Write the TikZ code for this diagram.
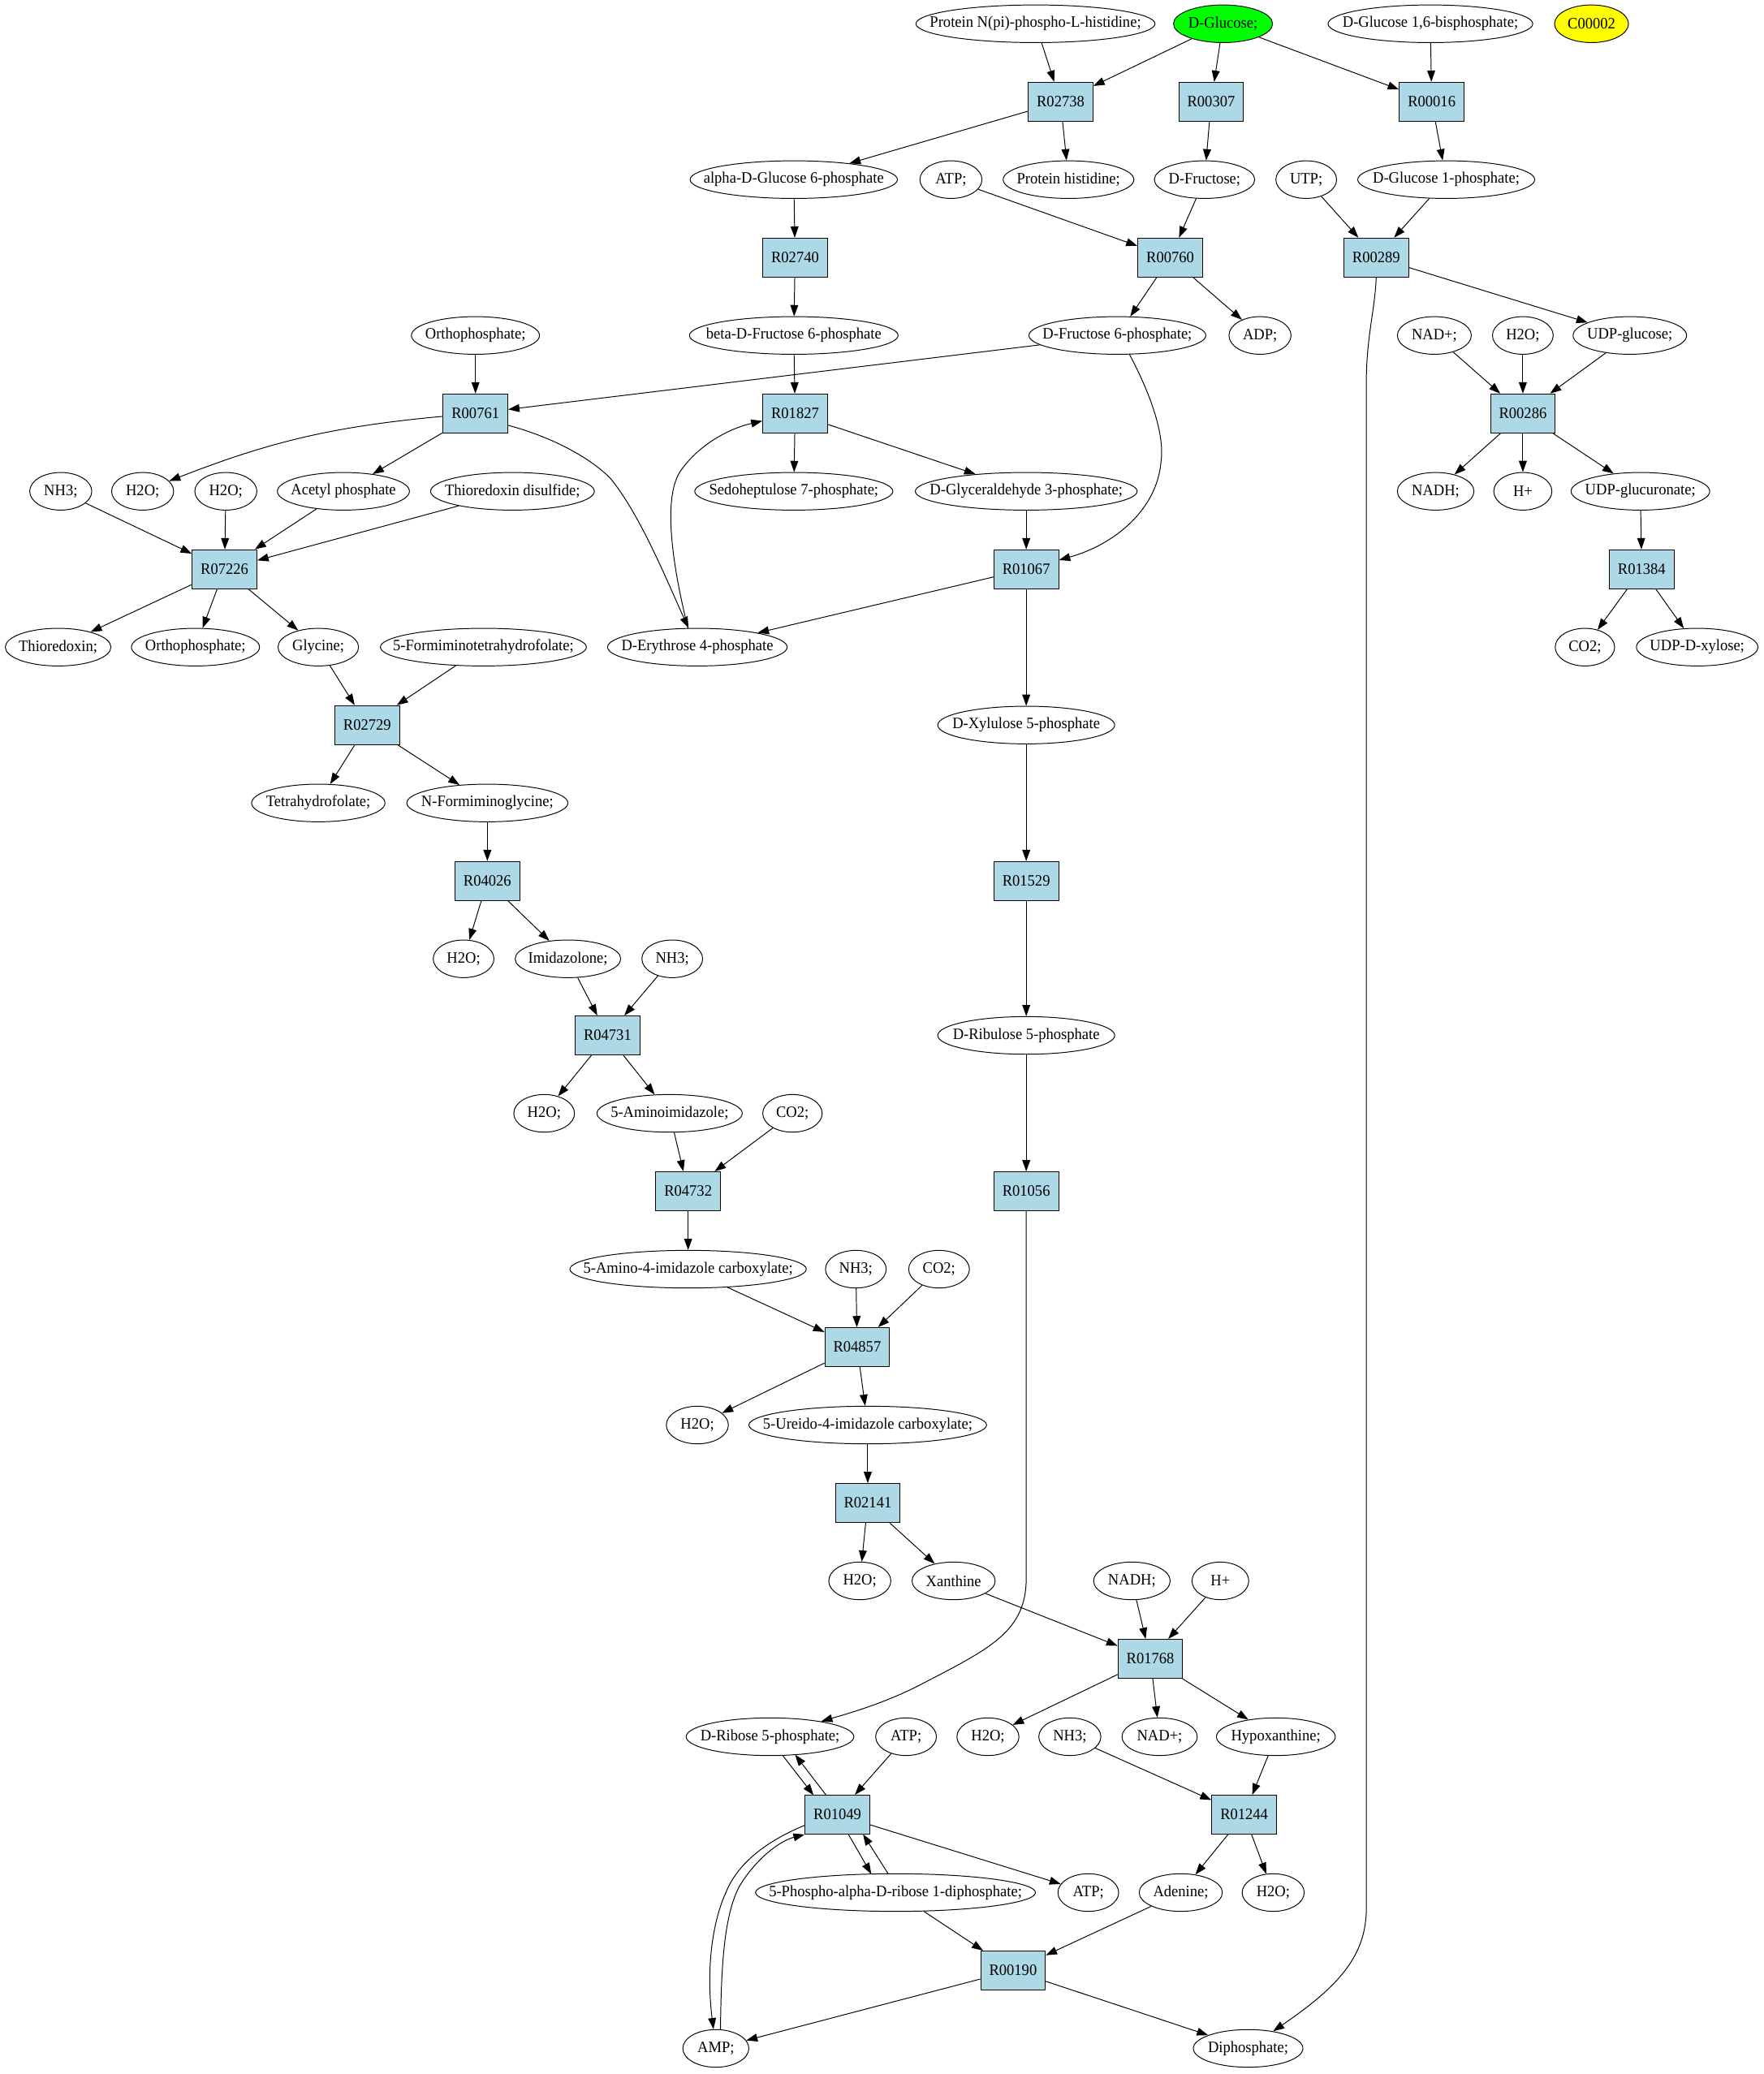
\documentclass[tikz,border=0pt]{standalone}
\usepackage{fontspec}
\setmainfont[FakeStretch=0.95]{Liberation Serif}
\usetikzlibrary{arrows.meta,shapes.geometric}
\definecolor{rxnblue}{HTML}{ADD8E6}
\definecolor{glcgreen}{HTML}{00FF00}
\definecolor{cpdyellow}{HTML}{FFFF00}
\newcommand{\cz}[1]{\makebox[0pt]{#1}}
\begin{document}
\begin{tikzpicture}[x=1pt,y=-1pt,
  font=\fontsize{12}{14}\selectfont,
  met/.style={draw, ellipse, line width=0.6pt, inner sep=0pt, minimum height=28.5pt, minimum width=#1pt},
  rxn/.style={draw, rectangle, line width=0.6pt, fill=rxnblue, inner sep=0pt, minimum width=49pt, minimum height=29.5pt},
  arr/.style={-{Triangle[length=8.5pt,width=6pt]}, line width=0.6pt}]
\useasboundingbox (0,0) rectangle (1335,1570.4);
\fill[white] (0,0) rectangle (1335,1570.4);

% row 0
\node[met=181] (prot) at (784,18) {\cz{Protein N(pi)-phospho-L-histidine;}};
\node[met=75, fill=glcgreen] (glc) at (926,18) {\cz{D-Glucose;}};
\node[met=155] (g16bp) at (1083,18) {\cz{D-Glucose 1,6-bisphosphate;}};
\node[met=56, fill=cpdyellow] (c2) at (1205,18) {\cz{C00002}};
% row 1
\node[rxn] (r02738) at (803,77) {R02738};
\node[rxn] (r00307) at (917,77) {R00307};
\node[rxn] (r00016) at (1084,77) {R00016};
% row 2
\node[met=157] (a6p) at (601,136) {\cz{alpha-D-Glucose 6-phosphate}};
\node[met=47] (atpA) at (720,136) {\cz{ATP;}};
\node[met=99] (phis) at (809,136) {\cz{Protein histidine;}};
\node[met=76] (fru) at (912,136) {\cz{D-Fructose;}};
\node[met=46] (utp) at (989,136) {\cz{UTP;}};
\node[met=134] (g1p) at (1095,136) {\cz{D-Glucose 1-phosphate;}};
% row 3
\node[rxn] (r02740) at (602,195) {R02740};
\node[rxn] (r00760) at (886,195) {R00760};
\node[rxn] (r00289) at (1042,195) {R00289};
% row 4
\node[met=97] (piA) at (360,254) {\cz{Orthophosphate;}};
\node[met=158] (bf6p) at (601,254) {\cz{beta-D-Fructose 6-phosphate}};
\node[met=134] (f6p) at (846,254) {\cz{D-Fructose 6-phosphate;}};
\node[met=47] (adp) at (954,254) {\cz{ADP;}};
\node[met=56] (nadA) at (1086,254) {\cz{NAD+;}};
\node[met=46] (h2oA) at (1153,254) {\cz{H2O;}};
\node[met=86] (udpg) at (1234,254) {\cz{UDP-glucose;}};
% row 5
\node[rxn] (r00761) at (360,313) {R00761};
\node[rxn] (r01827) at (602,313) {R01827};
\node[rxn] (r00286) at (1153,313) {R00286};
% row 6
\node[met=47] (nh3A) at (46,372) {\cz{NH3;}};
\node[met=47] (h2oB) at (108,372) {\cz{H2O;}};
\node[met=47] (h2oC) at (171,372) {\cz{H2O;}};
\node[met=100] (acp) at (260,372) {\cz{Acetyl phosphate}};
\node[met=124] (trxss) at (388,372) {\cz{Thioredoxin disulfide;}};
\node[met=150] (s7p) at (601,372) {\cz{Sedoheptulose 7-phosphate;}};
\node[met=168] (gap) at (777,372) {\cz{D-Glyceraldehyde 3-phosphate;}};
\node[met=58] (nadhA) at (1087,372) {\cz{NADH;}};
\node[met=44] (hpA) at (1153,372) {\cz{H+}};
\node[met=105] (udpgla) at (1242,372) {\cz{UDP-glucuronate;}};
% row 7
\node[rxn] (r07226) at (170,431) {R07226};
\node[rxn] (r01067) at (777,431) {R01067};
\node[rxn] (r01384) at (1243,431) {R01384};
% row 8
\node[met=80] (trx) at (44,490) {\cz{Thioredoxin;}};
\node[met=97] (piB) at (148,490) {\cz{Orthophosphate;}};
\node[met=61] (gly) at (241,490) {\cz{Glycine;}};
\node[met=156] (fthf) at (366,490) {\cz{5-Formiminotetrahydrofolate;}};
\node[met=136] (e4p) at (528,490) {\cz{D-Erythrose 4-phosphate}};
\node[met=45] (co2A) at (1200,490) {\cz{CO2;}};
\node[met=92] (udpx) at (1285,490) {\cz{UDP-D-xylose;}};
% row 9
\node[rxn] (r02729) at (278,549) {R02729};
\node[met=134] (xu5p) at (777,549) {\cz{D-Xylulose 5-phosphate}};
% row 10
\node[met=101] (thf) at (241,608) {\cz{Tetrahydrofolate;}};
\node[met=122] (nfg) at (369,608) {\cz{N-Formiminoglycine;}};
% row 11
\node[rxn] (r04026) at (369,667) {R04026};
\node[rxn] (r01529) at (777,667) {R01529};
% row 12
\node[met=46] (h2oD) at (351,726) {\cz{H2O;}};
\node[met=80] (imz) at (430,726) {\cz{Imidazolone;}};
\node[met=46] (nh3B) at (509,726) {\cz{NH3;}};
% row 13
\node[rxn] (r04731) at (460,784) {R04731};
\node[met=134] (ru5p) at (777,784) {\cz{D-Ribulose 5-phosphate}};
% row 14
\node[met=46] (h2oE) at (412,843) {\cz{H2O;}};
\node[met=110] (aimz) at (507,843) {\cz{5-Aminoimidazole;}};
\node[met=45] (co2B) at (600,843) {\cz{CO2;}};
% row 15
\node[rxn] (r04732) at (521,902) {R04732};
\node[rxn] (r01056) at (777,902) {R01056};
% row 16
\node[met=179] (aic) at (521,961) {\cz{5-Amino-4-imidazole carboxylate;}};
\node[met=46] (nh3C) at (648,961) {\cz{NH3;}};
\node[met=46] (co2C) at (711,961) {\cz{CO2;}};
% row 17
\node[rxn] (r04857) at (649,1020) {R04857};
% row 18
\node[met=47] (h2oF) at (528,1079) {\cz{H2O;}};
\node[met=180] (uic) at (657,1079) {\cz{5-Ureido-4-imidazole carboxylate;}};
% row 19
\node[rxn] (r02141) at (657,1138) {R02141};
% row 20
\node[met=47] (h2oG) at (651,1197) {\cz{H2O;}};
\node[met=63] (xan) at (722,1197) {\cz{Xanthine}};
\node[met=58] (nadhB) at (857,1197) {\cz{NADH;}};
\node[met=43] (hpB) at (924,1197) {\cz{H+}};
% row 21
\node[rxn] (r01768) at (871,1256) {R01768};
% row 22
\node[met=127] (r5p) at (583,1315) {\cz{D-Ribose 5-phosphate;}};
\node[met=46] (atpB) at (686,1315) {\cz{ATP;}};
\node[met=47] (h2oH) at (748,1315) {\cz{H2O;}};
\node[met=47] (nh3D) at (810,1315) {\cz{NH3;}};
\node[met=57] (nadB) at (878,1315) {\cz{NAD+;}};
\node[met=90] (hyp) at (966,1315) {\cz{Hypoxanthine;}};
% row 23
\node[rxn] (r01049) at (634,1374) {R01049};
\node[rxn] (r01244) at (942,1374) {R01244};
% row 24
\node[met=212] (prpp) at (678,1433) {\cz{5-Phospho-alpha-D-ribose 1-diphosphate;}};
\node[met=46] (atpC) at (824,1433) {\cz{ATP;}};
\node[met=63] (ade) at (894,1433) {\cz{Adenine;}};
\node[met=47] (h2oI) at (964,1433) {\cz{H2O;}};
% row 25
\node[rxn] (r00190) at (767,1492) {R00190};
% row 26
\node[met=50] (amp) at (542,1551) {\cz{AMP;}};
\node[met=83] (ppi) at (945,1551) {\cz{Diphosphate;}};

% ---- edges ----
\draw[arr] (prot) -- (r02738);
\draw[arr] (glc) -- (r02738);
\draw[arr] (glc) -- (r00307);
\draw[arr] (glc) -- (r00016);
\draw[arr] (g16bp) -- (r00016);
\draw[arr] (r02738) -- (a6p);
\draw[arr] (r02738) -- (phis);
\draw[arr] (r00307) -- (fru);
\draw[arr] (r00016) -- (g1p);
\draw[arr] (a6p) -- (r02740);
\draw[arr] (atpA) -- (r00760);
\draw[arr] (fru) -- (r00760);
\draw[arr] (utp) -- (r00289);
\draw[arr] (g1p) -- (r00289);
\draw[arr] (r02740) -- (bf6p);
\draw[arr] (r00760) -- (f6p);
\draw[arr] (r00760) -- (adp);
\draw[arr] (r00289) -- (udpg);
\draw[arr] (r00289.south) .. controls (1041,235) and (1034.5,255) .. (1034.5,290) -- (1034.5,1445) .. controls (1034.5,1482) and (1012,1505) .. (ppi);
\draw[arr] (piA) -- (r00761);
\draw[arr] (f6p) -- (r00761);
\draw[arr] (bf6p) -- (r01827);
\draw[arr] ([shift={(9,14)}]f6p.center) .. controls (872,300) and (882,330) .. (879,350) .. controls (876,385) and (845,412) .. (r01067);
\draw[arr] (nadA) -- (r00286);
\draw[arr] (h2oA) -- (r00286);
\draw[arr] (udpg) -- (r00286);
\draw[arr] (r00761) to[bend right=8] (h2oB);
\draw[arr] (r00761) -- (acp);
\draw[arr] ([shift={(24.5,9)}]r00761.center) .. controls (415,330) and (445,345) .. (462,362) .. controls (485,390) and (505,440) .. (e4p);
\draw[arr] ([shift={(-7,-14)}]e4p.center) .. controls (512,440) and (500,380) .. (515,357) .. controls (528,338) and (550,325) .. (r01827);
\draw[arr] (r01827) -- (s7p);
\draw[arr] (r01827) -- (gap);
\draw[arr] (r00286) -- (nadhA);
\draw[arr] (r00286) -- (hpA);
\draw[arr] (r00286) -- (udpgla);
\draw[arr] (nh3A) -- (r07226);
\draw[arr] (h2oC) -- (r07226);
\draw[arr] (acp) -- (r07226);
\draw[arr] (trxss) -- (r07226);
\draw[arr] (gap) -- (r01067);
\draw[arr] (udpgla) -- (r01384);
\draw[arr] (r07226) -- (trx);
\draw[arr] (r07226) -- (piB);
\draw[arr] (r07226) -- (gly);
\draw[arr] (r01067) -- (e4p);
\draw[arr] (r01067) -- (xu5p);
\draw[arr] (r01384) -- (co2A);
\draw[arr] (r01384) -- (udpx);
\draw[arr] (gly) -- (r02729);
\draw[arr] (fthf) -- (r02729);
\draw[arr] (r02729) -- (thf);
\draw[arr] (r02729) -- (nfg);
\draw[arr] (xu5p) -- (r01529);
\draw[arr] (r01529) -- (ru5p);
\draw[arr] (ru5p) -- (r01056);
\draw[arr] (r01056.south) -- (777,1195) .. controls (777,1235) and (750,1248) .. (700,1274) .. controls (670,1290) and (640,1298) .. (r5p);
\draw[arr] (nfg) -- (r04026);
\draw[arr] (r04026) -- (h2oD);
\draw[arr] (r04026) -- (imz);
\draw[arr] (imz) -- (r04731);
\draw[arr] (nh3B) -- (r04731);
\draw[arr] (r04731) -- (h2oE);
\draw[arr] (r04731) -- (aimz);
\draw[arr] (aimz) -- (r04732);
\draw[arr] (co2B) -- (r04732);
\draw[arr] (r04732) -- (aic);
\draw[arr] (aic) -- (r04857);
\draw[arr] (nh3C) -- (r04857);
\draw[arr] (co2C) -- (r04857);
\draw[arr] (r04857) -- (h2oF);
\draw[arr] (r04857) -- (uic);
\draw[arr] (uic) -- (r02141);
\draw[arr] (r02141) -- (h2oG);
\draw[arr] (r02141) -- (xan);
\draw[arr] (xan) -- (r01768);
\draw[arr] (nadhB) -- (r01768);
\draw[arr] (hpB) -- (r01768);
\draw[arr] (r01768) -- (h2oH);
\draw[arr] (r01768) -- (nadB);
\draw[arr] (r01768) -- (hyp);
\draw[arr] ([shift={(9.5,14.1)}]r5p.center) -- ([shift={(-18,-14.75)}]r01049.center);
\draw[arr] ([shift={(-8.5,-14.75)}]r01049.center) -- ([shift={(19,13.6)}]r5p.center);
\draw[arr] (atpB) -- (r01049);
\draw[arr] (nh3D) -- (r01244);
\draw[arr] (hyp) -- (r01244);
\draw[arr] ([shift={(8.3,14.75)}]r01049.center) -- ([shift={(-18.3,-14)}]prpp.center);
\draw[arr] ([shift={(-5.5,-14.2)}]prpp.center) -- ([shift={(19.4,14.75)}]r01049.center);
\draw[arr] (r01049) -- (atpC);
\draw[arr] ([shift={(-24.5,8)}]r01049.center) .. controls (585,1392) and (560,1408) .. (550,1432) .. controls (538,1458) and (535,1495) .. (amp);
\draw[arr] ([shift={(3.5,-14)}]amp.center) .. controls (546,1490) and (548,1450) .. (560,1428) .. controls (572,1408) and (590,1394) .. (r01049.south west);
\draw[arr] (r01244) -- (ade);
\draw[arr] (r01244) -- (h2oI);
\draw[arr] (prpp) -- (r00190);
\draw[arr] (ade) -- (r00190);
\draw[arr] (r00190) -- (amp);
\draw[arr] (r00190) -- (ppi);
\end{tikzpicture}
\end{document}
